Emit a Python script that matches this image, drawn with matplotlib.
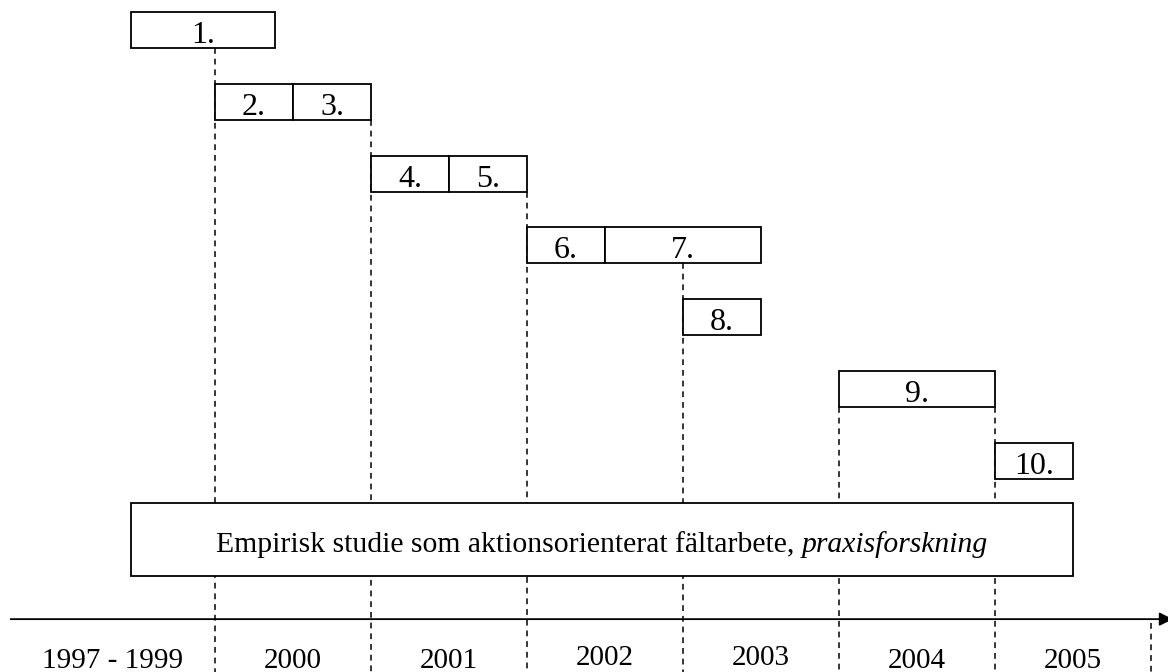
from matplotlib import pyplot as plt
from matplotlib.patches import Rectangle


# tasks: label, start year, end year, row (0 = top)
task_labels = ["1.", "2.", "3.", "4.", "5.", "6.", "7.", "8.", "9.", "10."]
task_start = [1999.46, 2000.0, 2000.5, 2001.0, 2001.5, 2002.0, 2002.5, 2003.0, 2004.0, 2005.0]
task_end = [2000.385, 2000.5, 2001.0, 2001.5, 2002.0, 2002.5, 2003.5, 2003.5, 2005.0, 2005.5]
task_row = [0, 1, 1, 2, 2, 3, 3, 4, 5, 6]

# the long study bar
study_text = "Empirisk studie som aktionsorienterat fältarbete, "
study_italic = "praxisforskning"
study_start = 1999.46
study_end = 2005.5

# time axis
year_bounds = [2000, 2001, 2002, 2003, 2004, 2005, 2006]
guide_from = [0.5, 1.5, 2.5, 3.5, 5.5, 5.5, None]   # None = starts at the axis
year_labels = ["1997 - 1999", "2000", "2001", "2002", "2003", "2004", "2005"]
axis_start = 1998.69
axis_end = 2006.14


def go(
    ):
    plt.rcParams['font.family'] = ['Liberation Serif', 'DejaVu Serif']
    fig = plt.figure(figsize=(11.68, 6.72), dpi=100)
    ax = fig.add_axes([0, 0, 1, 1])
    ax.set_xlim(2000 - 215 / 156, 2000 + (1168 - 215) / 156)
    ax.set_ylim(9.19, -0.167)
    ax.axis("off")

    _draw_guides(ax)
    _draw_tasks(ax)
    _draw_study(ax)
    _draw_axis(ax)

    fig.savefig("out.png", dpi=100, facecolor="white")


def _draw_guides(
    ax
    ):
    axis_row = 8.454
    for x, y0 in zip(year_bounds, guide_from):
        if y0 is None:
            y0 = axis_row + 0.06
        ax.plot([x, x], [y0, 9.3], color="black", lw=1.1,
                linestyle=(0, (3.8, 3.2)), zorder=1)


def _draw_tasks(
    ax
    ):
    for lab, s, e, r in zip(task_labels, task_start, task_end, task_row):
        ax.add_patch(Rectangle((s, r), e - s, 0.5, facecolor="white",
                               edgecolor="black", lw=1.3, zorder=3))
        ax.text((s + e) / 2, r + 0.43, lab, ha="center", va="baseline",
                fontsize=23, zorder=4)


def _draw_study(
    ax
    ):
    ax.add_patch(Rectangle((study_start, 6.84), study_end - study_start, 1.015,
                           facecolor="white", edgecolor="black", lw=1.3, zorder=3))
    fig = ax.figure
    fig.canvas.draw()
    r = fig.canvas.get_renderer()
    t1 = ax.text(0, 7.52, study_text, fontsize=21.3, va="baseline", zorder=4)
    t2 = ax.text(0, 7.52, study_italic, fontsize=21.3, style="italic",
                 va="baseline", zorder=4)
    w1 = t1.get_window_extent(r).width
    w2 = t2.get_window_extent(r).width
    inv = ax.transData.inverted()
    x0_px = ax.transData.transform(((study_start + study_end) / 2, 0))[0] - (w1 + w2) / 2
    t1.set_x(inv.transform((x0_px, 0))[0])
    t2.set_x(inv.transform((x0_px + w1, 0))[0])


def _draw_axis(
    ax
    ):
    axis_row = 8.454
    ax.annotate("", xy=(axis_end, axis_row), xytext=(axis_start, axis_row),
                arrowprops=dict(arrowstyle="-|>", color="black", lw=1.3,
                                mutation_scale=20, shrinkA=0, shrinkB=0),
                annotation_clip=False, zorder=2)
    lefts = [axis_start] + year_bounds[:-1]
    rights = year_bounds
    for lab, a, b in zip(year_labels, lefts, rights):
        dy = -0.04 if lab in ("2002", "2003") else 0
        ax.text((a + b) / 2, 9.136 + dy, lab, ha="center", va="baseline",
                fontsize=21)


go()
